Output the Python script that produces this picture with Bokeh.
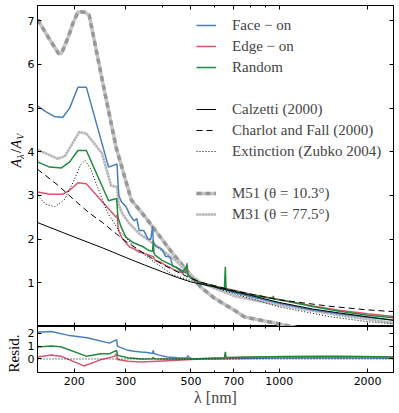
from bokeh.plotting import figure
from bokeh.layouts import column, row
from bokeh.models import (Range1d, FixedTicker, LinearAxis, LogAxis, Legend,
                          LegendItem, Span, Label, PrintfTickFormatter,
                          CustomLabelingPolicy)
from bokeh.embed import file_html
from bokeh.resources import INLINE

# ---------------- data ----------------
FACE_WL = [150, 160, 172, 183, 193, 206, 220, 262, 280, 282, 284, 290, 300, 310, 320, 327, 333, 345, 357, 365,
           370, 372, 374, 380, 392, 400, 410, 420, 427, 433, 445, 462, 480, 485, 487, 490, 500, 520, 540, 600,
           650, 655, 658, 700, 800, 1000, 1300, 1600, 2000, 2450]
FACE_A = [5.05, 4.92, 4.80, 4.79, 5.00, 5.48, 5.48, 3.65, 3.72, 3.3, 3.0, 2.85, 2.75, 2.55, 2.42, 2.47, 2.2, 2.2, 2.0, 2.0,
          2.3, 1.95, 1.9, 1.83, 1.8, 1.75, 1.6, 1.6, 1.55, 1.38, 1.36, 1.3, 1.22, 1.45, 1.2, 1.18, 1.1, 1.05, 1.0, 0.91,
          0.84, 0.95, 0.83, 0.78, 0.68, 0.53, 0.38, 0.29, 0.21, 0.15]

EDGE_WL = [150, 165, 183, 193, 206, 220, 278, 280, 283, 292, 309, 320, 334, 345, 360, 372, 378, 395, 410, 430,
           444, 470, 485, 487, 510, 540, 600, 700, 800, 1000, 1300, 1600, 2000, 2450]
EDGE_A = [3.08, 3.03, 3.03, 3.12, 3.29, 3.27, 2.5, 2.55, 2.2, 2.01, 1.82, 1.78, 1.7, 1.68, 1.63, 1.6, 1.51, 1.47, 1.4, 1.33,
          1.28, 1.22, 1.35, 1.2, 1.08, 1.0, 0.93, 0.83, 0.74, 0.62, 0.47, 0.37, 0.29, 0.23]

RAND_WL = [150, 165, 181, 193, 206, 220, 262, 279, 282, 289, 300, 316, 334, 345, 360, 370, 372, 374, 378, 400,
           420, 444, 468, 485, 487, 500, 540, 600, 650, 655, 658, 700, 800, 860, 864, 868, 950, 954, 958, 1000,
           1300, 1600, 2000, 2450]
RAND_A = [3.77, 3.65, 3.63, 3.77, 4.03, 4.03, 2.88, 2.93, 2.5, 2.28, 2.05, 1.93, 1.86, 1.82, 1.74, 1.72, 1.97, 1.68, 1.63, 1.51,
          1.44, 1.36, 1.24, 1.4, 1.18, 1.12, 1.0, 0.93, 0.86, 1.37, 0.86, 0.82, 0.73, 0.68, 0.72, 0.68, 0.64, 0.7, 0.63, 0.61,
          0.46, 0.35, 0.26, 0.2]

M31_WL = [150, 176, 186, 208, 220, 249, 267, 278, 281, 283, 292, 309, 334, 360, 400, 444, 480, 540, 600, 700,
          800, 1000, 1300, 1600, 2000, 2450]
M31_A = [4.05, 3.84, 3.9, 4.45, 4.42, 3.96, 3.23, 3.2, 3.16, 2.8, 2.58, 2.35, 2.12, 1.97, 1.74, 1.51, 1.28, 1.0, 0.88, 0.7,
         0.62, 0.49, 0.36, 0.26, 0.165, 0.08]

M51_WL = [150, 163, 177, 181, 191, 198, 206, 216, 225, 250, 278, 313, 350, 385, 430, 490, 540, 600, 700, 760, 1100, 1500]
M51_A = [7.03, 6.63, 6.25, 6.25, 6.63, 6.94, 7.2, 7.2, 7.13, 5.6, 4.1, 2.9, 2.5, 2.13, 1.7, 1.24, 0.9, 0.65, 0.38, 0.22, 0.0, -0.2]

CALZ_WL = [150, 200, 250, 300, 350, 400, 450, 500, 550, 600, 700, 800, 1000, 1300, 1600, 2000, 2450]
CALZ_A = [2.38, 2.05, 1.8, 1.58, 1.4, 1.25, 1.12, 1.02, 0.96, 0.91, 0.8, 0.71, 0.55, 0.4, 0.31, 0.22, 0.14]

CF_WL = [150, 175, 200, 225, 250, 275, 300, 350, 400, 450, 500, 550, 700, 1000, 1500, 2000, 2450]
CF_A = [3.6, 3.25, 2.9, 2.6, 2.38, 2.15, 1.95, 1.65, 1.42, 1.25, 1.1, 1.0, 0.82, 0.61, 0.46, 0.38, 0.34]

ZUB_WL = [150, 160, 172, 185, 200, 210, 218, 228, 240, 260, 283, 300, 320, 365, 435, 500, 550, 700, 1000, 1500, 2000, 2450]
ZUB_A = [3.0, 2.8, 2.74, 2.9, 3.35, 3.7, 3.8, 3.6, 3.2, 2.6, 2.21, 2.03, 1.83, 1.53, 1.18, 1.05, 0.98, 0.75, 0.45, 0.22, 0.11, 0.06]

RES_FACE_WL = [150, 167, 190, 221, 264, 279, 281, 286, 305, 320, 338, 355, 370, 372, 374, 390, 415, 450, 485, 487,
               500, 600, 1000, 2000, 2450]
RES_FACE = [2.08, 2.13, 1.85, 1.64, 1.23, 1.5, 1.0, 0.92, 0.67, 0.6, 0.54, 0.5, 0.43, 0.67, 0.42, 0.3, 0.15, 0.1, 0.08, 0.25,
            0.03, 0.0, 0.07, 0.08, 0.05]
RES_EDGE_WL = [150, 167, 180, 216, 247, 274, 279, 281, 305, 338, 400, 500, 700, 1000, 1500, 2000, 2450]
RES_EDGE = [0.15, 0.3, 0.22, -0.54, -0.05, 0.2, 0.4, -0.05, -0.18, -0.23, -0.15, -0.05, 0.1, 0.2, 0.22, 0.2, 0.15]
RES_RAND_WL = [150, 167, 180, 220, 247, 264, 279, 281, 305, 338, 370, 372, 374, 400, 500, 600, 650, 655, 658, 800,
               1000, 1500, 2000, 2450]
RES_RAND = [0.92, 1.0, 0.95, 0.22, 0.41, 0.41, 0.67, 0.28, 0.1, 0.0, 0.02, 0.12, 0.01, 0.0, 0.0, 0.08, 0.1, 0.55, 0.12, 0.15,
            0.18, 0.2, 0.18, 0.15]

X_TICKS = [200, 300, 500, 700, 1000, 2000]
X_MINOR = [150, 400, 600, 800, 900]
Y_TICKS = [1, 2, 3, 4, 5, 6, 7]
R_TICKS = [0, 1, 2]
LEGEND_LABELS = ["Face \u2212 on", "Edge \u2212 on", "Random", "Calzetti (2000)", "Charlot and Fall (2000)",
                 "Extinction (Zubko 2004)", "M51 (\u03b8 = 10.3\u00b0)", "M31 (\u03b8 = 77.5\u00b0)"]

# ---------------- layout constants ----------------
XMIN, XMAX = 150, 2450
YMIN, YMAX = 0.0, 7.35
RMIN, RMAX = -1.05, 2.52
LABW = 24          # strip holding the rotated y labels
LEFT = 13          # border for the tick labels
FW = 356
FH = 321
RH = 46
TOP = 5
TOTAL_H = 409

BLUE = "#4a7ebb"
RED = "#d6566e"
GREEN = "#1f8a3c"
SERIF = "Liberation Serif"
SANS = "DejaVu Sans"


def hide_labels(ax):
    ax.major_label_text_font_size = "0px"
    ax.major_label_standoff = 0
    ax.major_label_policy = CustomLabelingPolicy(
        code="for (const i of indices) { indices.unset(i) } return indices")


def style_axes(fig, yticks, label_bottom):
    for ax in fig.axis:
        ax.major_tick_in = 4
        ax.major_tick_out = 0
        ax.minor_tick_in = 2
        ax.minor_tick_out = 0
        ax.axis_line_color = "black"
        ax.major_tick_line_color = "black"
        ax.minor_tick_line_color = "black"
        ax.major_label_text_font = SANS
        ax.major_label_text_font_size = "11px"
        ax.major_label_text_color = "black"
        ax.major_label_standoff = 3
    for ax in fig.xaxis:
        ax.ticker = FixedTicker(ticks=X_TICKS, minor_ticks=X_MINOR)
        ax.formatter = PrintfTickFormatter(format="%d")
    for ax in fig.yaxis:
        ax.ticker = FixedTicker(ticks=yticks, minor_ticks=[])
    hidden = fig.above + fig.right
    if not label_bottom:
        hidden = hidden + fig.below
    for ax in hidden:
        hide_labels(ax)


def make_fig(frame_h, y_rng, x_rng, top_border):
    f = figure(frame_width=FW, frame_height=frame_h, x_axis_type="log",
               x_range=x_rng, y_range=y_rng, output_backend="svg",
               toolbar_location=None, min_border_left=LEFT, min_border_right=6,
               min_border_top=top_border, min_border_bottom=0,
               outline_line_color="black", background_fill_color="white",
               border_fill_color="white")
    f.grid.visible = False
    f.add_layout(LogAxis(), "above")
    f.add_layout(LinearAxis(), "right")
    return f


x_range = Range1d(XMIN, XMAX)
p = make_fig(FH, Range1d(YMIN, YMAX), x_range, TOP)
style_axes(p, Y_TICKS, False)

# gray galaxies
m51a = p.line(M51_WL, M51_A, line_color="#c4c4c4", line_width=3.5)
m51b = p.line(M51_WL, M51_A, line_color="#989898", line_width=3.5, line_dash="5 4")
m31a = p.line(M31_WL, M31_A, line_color="#cccccc", line_width=2.5)
m31b = p.line(M31_WL, M31_A, line_color="#a8a8a8", line_width=2.5, line_dash="1 2")

face = p.line(FACE_WL, FACE_A, line_color=BLUE, line_width=1.5)
edge = p.line(EDGE_WL, EDGE_A, line_color=RED, line_width=1.5)
rand = p.line(RAND_WL, RAND_A, line_color=GREEN, line_width=1.5)

calz = p.line(CALZ_WL, CALZ_A, line_color="black", line_width=1)
cf = p.line(CF_WL, CF_A, line_color="black", line_width=1, line_dash="6 4")
zub = p.line(ZUB_WL, ZUB_A, line_color="black", line_width=1, line_dash="1 2")

blank1 = p.line(ZUB_WL, ZUB_A, line_alpha=0)
blank2 = p.line(ZUB_WL, ZUB_A, line_alpha=0)

items = [
    LegendItem(label=LEGEND_LABELS[0], renderers=[face]),
    LegendItem(label=LEGEND_LABELS[1], renderers=[edge]),
    LegendItem(label=LEGEND_LABELS[2], renderers=[rand]),
    LegendItem(label=" ", renderers=[blank1]),
    LegendItem(label=LEGEND_LABELS[3], renderers=[calz]),
    LegendItem(label=LEGEND_LABELS[4], renderers=[cf]),
    LegendItem(label=LEGEND_LABELS[5], renderers=[zub]),
    LegendItem(label=" ", renderers=[blank2]),
    LegendItem(label=LEGEND_LABELS[6], renderers=[m51a, m51b]),
    LegendItem(label=LEGEND_LABELS[7], renderers=[m31a, m31b]),
]
n_items = len(items)
item_h = 18
gap = 3
leg_h = n_items * item_h + (n_items - 1) * gap
legend = Legend(items=items, location=(159, FH - 11 - leg_h),
                border_line_alpha=0, background_fill_alpha=0,
                padding=0, margin=0, spacing=gap, glyph_height=item_h,
                label_height=item_h, glyph_width=20, label_standoff=16,
                label_text_font=SERIF, label_text_font_size="15px")
p.add_layout(legend)

# ---------------- residual panel ----------------
r = make_fig(RH, Range1d(RMIN, RMAX), x_range, 0)
style_axes(r, R_TICKS, True)
r.below[0].major_label_standoff = 4
r.below[0].axis_label = "\u03bb [nm]"
r.below[0].axis_label_text_font = SERIF
r.below[0].axis_label_text_font_style = "normal"
r.below[0].axis_label_text_font_size = "16px"
r.below[0].axis_label_standoff = 1

r.add_layout(Span(location=0, dimension="width", line_color="black",
                  line_width=1, line_dash="1 2"))
r.line(RES_FACE_WL, RES_FACE, line_color=BLUE, line_width=1.5)
r.line(RES_EDGE_WL, RES_EDGE, line_color=RED, line_width=1.5)
r.line(RES_RAND_WL, RES_RAND, line_color=GREEN, line_width=1.5)

# ---------------- strip with the rotated y-axis labels ----------------
lab = figure(width=LABW, height=TOTAL_H, x_range=Range1d(0, LABW),
             y_range=Range1d(0, TOTAL_H), x_axis_location=None,
             y_axis_location=None, toolbar_location=None, output_backend="svg",
             min_border=0, outline_line_color=None, border_fill_color="white",
             background_fill_color="white")
lab.grid.visible = False

# A_lambda / A_V, centred near y = 150 px from the top
pieces = [("A", 14, False, "italic", 8.8), ("\u03bb", 10, True, "italic", 5.6),
          ("/", 14, False, "normal", 4.6), ("A", 14, False, "italic", 8.8),
          ("V", 10, True, "italic", 6.2)]
total = sum(pc[4] for pc in pieces)
pos = (TOTAL_H - 150) - total / 2
for txt, size, sub, style, adv in pieces:
    bx = 19.5 if sub else 16.0
    lab.add_layout(Label(x=bx, y=pos, text=txt, angle=90, angle_units="deg",
                         text_align="left", text_baseline="alphabetic",
                         text_font=SERIF, text_font_style=style,
                         text_font_size=f"{size}px", text_color="black"))
    pos += adv

lab.add_layout(Label(x=13.0, y=TOTAL_H - (TOP + FH + RH / 2 + 4), text="Resid.",
                     angle=90, angle_units="deg", text_align="center",
                     text_baseline="middle", text_font=SERIF,
                     text_font_size="15px", text_color="black"))

layout = row(lab, column(p, r, spacing=0), spacing=0)
open("out.html", "w").write(file_html(layout, INLINE))
